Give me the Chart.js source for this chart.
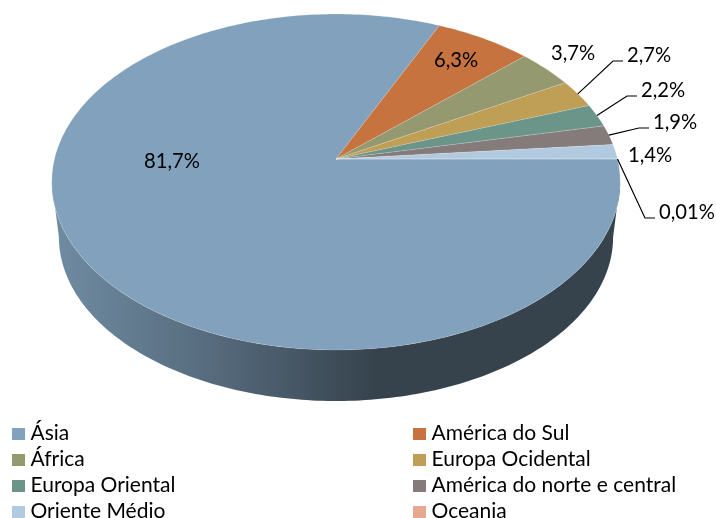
<!DOCTYPE html>
<html>
<head>
<meta charset="utf-8">
<script src="https://cdn.jsdelivr.net/npm/chart.js@4"></script>
<style>
  html, body { margin: 0; padding: 0; background: #fff; }
  canvas { display: block; }
</style>
</head>
<body>
<canvas id="chart" width="716" height="518"></canvas>
<script>
const categories = ["Ásia", "América do Sul", "África", "Europa Ocidental", "Europa Oriental", "América do norte e central", "Oriente Médio", "Oceania"];
const shares = [81.7, 6.3, 3.7, 2.7, 2.2, 1.9, 1.4, 0.01];
const shareLabels = ["81,7%", "6,3%", "3,7%", "2,7%", "2,2%", "1,9%", "1,4%", "0,01%"];
const colors = ["#81a1bc", "#c6733f", "#95996f", "#bf9e55", "#6a9588", "#857b7b", "#b2cadf", "#e6a98f"];

// where each share label sits, and whether it gets a leader line
const labelX = [144, 434, 551, 627, 641, 653, 628, 659];
const labelY = [161, 60, 53, 55, 90, 122, 155, 212];
const hasLeader = [false, false, false, true, true, true, false, true];

const FONT = "Lato, sans-serif";
const labelFont = "20.2px " + FONT;
const legendFont = "21px " + FONT;

// perspective of the tilted disc: apex sits above the middle of the ellipse
const tilt = -0.137;
const stretchX = 281.5 / 158;
const stretchY = 164.8 / 158;
const wallScale = 0.975;
const wallDrop = 55.8;

function project(arc, angle, lower) {
  const u = Math.cos(angle), v = Math.sin(angle);
  const w = 1 + tilt * v;
  let dx = arc.outerRadius * stretchX * u / w;
  let dy = arc.outerRadius * stretchY * v / w;
  if (lower) {
    dx *= wallScale;
    dy = dy * wallScale + wallDrop;
  }
  return { x: arc.x + dx, y: arc.y + dy };
}

function rimPath(ctx, arc, from, to, lower) {
  const steps = Math.max(2, Math.ceil(Math.abs(to - from) * 60));
  for (let i = 0; i <= steps; i++) {
    const p = project(arc, from + (to - from) * i / steps, lower);
    ctx.lineTo(p.x, p.y);
  }
}

// draw the pie's arcs as a tilted 3d disc instead of a flat circle
Chart.ArcElement.prototype.draw = function (ctx) {
  const limit = Math.asin(-tilt);
  const lo = Math.max(this.startAngle, limit);
  const hi = Math.min(this.endAngle, Math.PI - limit);
  if (lo < hi) {
    const wall = ctx.createLinearGradient(58, 0, 613, 0);
    wall.addColorStop(0, "#6f8ba1");
    wall.addColorStop(0.3, "#54687a");
    wall.addColorStop(0.57, "#36434d");
    wall.addColorStop(1, "#36434d");
    ctx.beginPath();
    rimPath(ctx, this, lo, hi, false);
    rimPath(ctx, this, hi, lo, true);
    ctx.closePath();
    ctx.fillStyle = wall;
    ctx.fill();
  }
  ctx.beginPath();
  ctx.moveTo(this.x, this.y);
  rimPath(ctx, this, this.startAngle, this.endAngle, false);
  ctx.closePath();
  ctx.fillStyle = this.options.backgroundColor;
  ctx.fill();
  // soft pale edge round each slice
  ctx.strokeStyle = "rgba(255,255,255,0.22)";
  ctx.lineWidth = 0.7;
  ctx.stroke();
};

const shareLabelPlugin = {
  id: "shareLabels",
  afterDatasetsDraw(chart) {
    const ctx = chart.ctx;
    const arcs = chart.getDatasetMeta(0).data;
    ctx.save();
    ctx.font = labelFont;
    ctx.fillStyle = "#000";
    ctx.textAlign = "left";
    ctx.textBaseline = "middle";
    ctx.strokeStyle = "#000";
    ctx.lineWidth = 1.2;
    shareLabels.forEach((text, i) => {
      if (hasLeader[i]) {
        const arc = arcs[i];
        const start = project(arc, (arc.startAngle + arc.endAngle) / 2, false);
        const lineY = labelY[i] + 6;
        ctx.beginPath();
        ctx.moveTo(start.x, start.y);
        ctx.lineTo(labelX[i] - 14, lineY);
        ctx.lineTo(labelX[i] - 4, lineY);
        ctx.stroke();
      }
      ctx.fillText(text, labelX[i], labelY[i]);
    });
    ctx.restore();
  }
};

// two column legend, chart.js' own legend can't line these columns up
const legendColumns = [12, 413];
const legendRows = [434, 460, 486, 512];
const legendPlugin = {
  id: "twoColLegend",
  afterDraw(chart) {
    const ctx = chart.ctx;
    ctx.save();
    ctx.font = legendFont;
    ctx.textAlign = "left";
    ctx.textBaseline = "alphabetic";
    categories.forEach((name, i) => {
      const x = legendColumns[i % 2];
      const y = legendRows[Math.floor(i / 2)];
      ctx.fillStyle = colors[i];
      ctx.fillRect(x, y - 6, 13, 12);
      ctx.fillStyle = "#000";
      ctx.fillText(name, x + 18.5, y + 6);
    });
    ctx.restore();
  }
};

new Chart(document.getElementById("chart"), {
  type: "pie",
  data: {
    labels: categories,
    datasets: [{ data: shares, backgroundColor: colors, borderWidth: 0 }]
  },
  options: {
    responsive: false,
    animation: false,
    rotation: 90,
    layout: { padding: { left: 178, right: 222, top: 1, bottom: 201 } },
    plugins: { legend: { display: false }, tooltip: { enabled: false } }
  },
  plugins: [shareLabelPlugin, legendPlugin]
});
</script>
</body>
</html>
